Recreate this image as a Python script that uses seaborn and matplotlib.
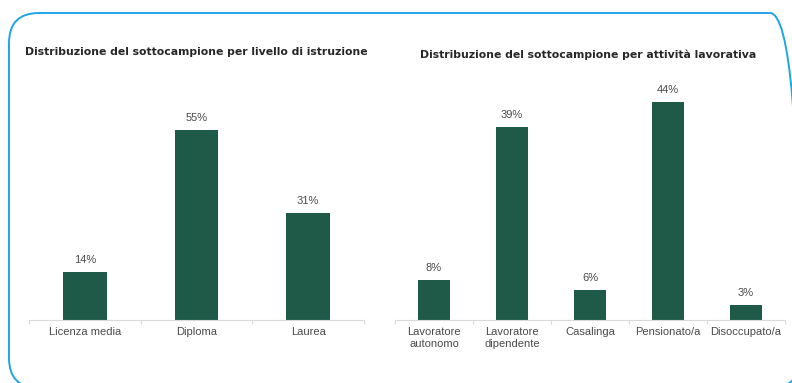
import matplotlib
matplotlib.use("Agg")
import matplotlib.pyplot as plt
import seaborn as sns
import pandas as pd
from matplotlib.patches import FancyBboxPatch
from matplotlib.transforms import IdentityTransform

# data
istruzione = ["Licenza media", "Diploma", "Laurea"]
istruzione_pct = [14, 55, 31]

lavoro = ["Lavoratore\nautonomo", "Lavoratore\ndipendente", "Casalinga", "Pensionato/a", "Disoccupato/a"]
lavoro_pct = [8, 39, 6, 44, 3]

BAR = "#1f5a48"
TXT = "#4a4a4a"

sns.set_theme(style="white")
plt.rcParams['font.family'] = ['Liberation Sans', 'DejaVu Sans']

fig = plt.figure(figsize=(7.92, 3.83), dpi=100)

# rounded frame
frame = FancyBboxPatch((9, -5), 791, 375, boxstyle="round,pad=0,rounding_size=30",
                       transform=IdentityTransform(), fill=False,
                       edgecolor="#1ea5e6", linewidth=1.4)
fig.patches.append(frame)


def make_bar(ax, cats, vals, width, ymax):
    df = pd.DataFrame({"cat": cats, "val": vals})
    sns.barplot(data=df, x="cat", y="val", color=BAR, width=width, ax=ax,
                saturation=1, edgecolor="none")
    ax.set_ylim(0, ymax)
    ax.set_xlim(-0.5, len(cats) - 0.5)
    for c in ax.containers:
        ax.bar_label(c, labels=[f"{v}%" for v in vals], padding=5,
                     fontsize=8, color=TXT)
    ax.set_xlabel("")
    ax.set_ylabel("")
    ax.set_yticks([])
    for s in ["top", "right", "left"]:
        ax.spines[s].set_visible(False)
    ax.spines["bottom"].set_color("#d9d9d9")
    ax.spines["bottom"].set_linewidth(0.8)
    ax.tick_params(axis="x", length=0, labelsize=8, labelcolor=TXT, pad=5)
    ax.set_xticks([i + 0.5 for i in range(-1, len(cats))], minor=True)
    ax.tick_params(axis="x", which="minor", length=3, color="#d9d9d9", width=0.8,
                   bottom=True)


ax1 = fig.add_axes([29 / 792, 63 / 383, 335 / 792, 207 / 383])
make_bar(ax1, istruzione, istruzione_pct, 0.39, 60)

ax2 = fig.add_axes([395 / 792, 63 / 383, 390 / 792, 247.5 / 383])
make_bar(ax2, lavoro, lavoro_pct, 0.40, 50)

fig.text(25 / 792, 1 - 52 / 383, "Distribuzione del sottocampione per livello di istruzione",
         fontsize=7.8, fontweight="bold", color="#262626", va="center", ha="left",
         family=["DejaVu Sans"])
fig.text(420 / 792, 1 - 55 / 383, "Distribuzione del sottocampione per attività lavorativa",
         fontsize=7.8, fontweight="bold", color="#262626", va="center", ha="left",
         family=["DejaVu Sans"])

fig.savefig("out.png", dpi=100)
